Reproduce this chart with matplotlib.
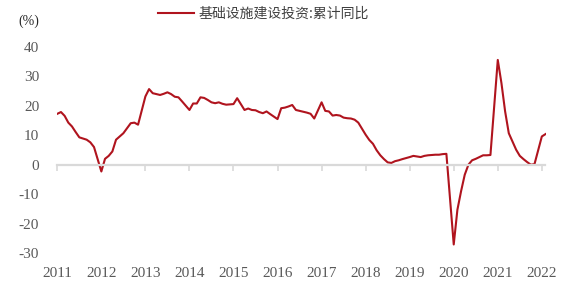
import pandas as pd
import matplotlib
matplotlib.use("Agg")
import matplotlib.pyplot as plt

# Cumulative YoY of infrastructure investment (%), Feb-Dec each year (no Jan release)
yoy_2011 = [17.3, 17.9, 16.6, 14.3, 13.0, 11.1, 9.3, 8.9, 8.5, 7.6, 6.0]
yoy_2012 = [-2.3, 2.0, 3.0, 4.5, 8.5, 9.6, 10.7, 12.4, 14.1, 14.3, 13.6]
yoy_2013 = [23.2, 25.7, 24.3, 24.0, 23.7, 24.1, 24.6, 24.0, 23.1, 22.9, 21.5]
yoy_2014 = [18.6, 20.8, 20.8, 22.9, 22.7, 22.0, 21.2, 20.9, 21.2, 20.7, 20.4]
yoy_2015 = [20.6, 22.6, 20.6, 18.6, 19.1, 18.6, 18.5, 17.9, 17.5, 18.1, 17.2]
yoy_2016 = [15.5, 19.2, 19.4, 19.8, 20.3, 18.6, 18.3, 18.0, 17.7, 17.3, 15.7]
yoy_2017 = [21.2, 18.3, 18.1, 16.7, 16.9, 16.7, 16.0, 15.8, 15.7, 15.3, 14.3]
yoy_2018 = [10.2, 8.4, 7.1, 4.9, 3.2, 1.9, 0.8, 0.6, 1.2, 1.5, 1.9]
yoy_2019 = [2.6, 3.0, 2.8, 2.6, 3.0, 3.2, 3.3, 3.4, 3.4, 3.6, 3.7]
yoy_2020 = [-27.1, -15.3, -9.0, -3.4, 0.0, 1.5, 2.0, 2.6, 3.2, 3.2, 3.3]
yoy_2021 = [35.6, 27.7, 18.1, 10.7, 7.9, 5.1, 3.0, 1.9, 0.9, 0.0, 0.2]
yoy_2022 = [9.6, 10.4]

years = list(range(2011, 2023))
series_name = "基础设施建设投资:累计同比"
y_ticks = [-30, -20, -10, 0, 10, 20, 30, 40]

by_year = [yoy_2011, yoy_2012, yoy_2013, yoy_2014, yoy_2015, yoy_2016,
           yoy_2017, yoy_2018, yoy_2019, yoy_2020, yoy_2021, yoy_2022]

# build monthly dates, first value of each year is February
dates = []
values = []
for yr, vals in zip(years, by_year):
    for k, v in enumerate(vals):
        dates.append(pd.Timestamp(year=yr, month=2 + k, day=1))
        values.append(v)
s = pd.Series(values, index=dates)

# month index counted from Feb 2011
x = [(d.year - 2011) * 12 + d.month - 2 for d in s.index]
tick_pos = [(yr - 2011) * 12 for yr in years]

plt.rcParams["font.family"] = ["Liberation Serif", "DejaVu Sans"]

red = "#B0141E"
grey_txt = "#595959"

fig = plt.figure(figsize=(5.7, 2.84), dpi=100)
ax = fig.add_axes([57.3 / 570, 1 - 253 / 284, (545.5 - 57.3) / 570, (253 - 47) / 284])

line, = ax.plot(x, s.values, color=red, lw=1.5, solid_joinstyle="round")

ax.set_xlim(0, x[-1])
ax.set_ylim(-30, 40)
ax.set_yticks(y_ticks)
ax.set_yticklabels([str(t) for t in y_ticks])
ax.tick_params(axis="y", length=0, pad=13, labelsize=11, labelcolor=grey_txt)

for side in ["top", "right", "left"]:
    ax.spines[side].set_visible(False)
ax.spines["bottom"].set_position(("data", 0))
ax.spines["bottom"].set_color("#D9D9D9")
ax.spines["bottom"].set_linewidth(1.6)
ax.set_xticks(tick_pos)
ax.tick_params(axis="x", direction="out", length=4, width=1.2, color="#D9D9D9",
               labelbottom=False)

# year labels sit at the bottom of the plot, not on the zero line
secax = ax.secondary_xaxis("bottom")
secax.set_xticks(tick_pos)
secax.set_xticklabels([str(yr) for yr in years])
secax.tick_params(length=0, pad=10, labelsize=11, labelcolor=grey_txt)
secax.spines["bottom"].set_visible(False)

fig.text(39 / 570, 1 - 21 / 284, "(%)", ha="right", va="center",
         fontsize=10, color="#262626")

leg = fig.legend([line], [series_name], loc="center", bbox_to_anchor=(0.462, 0.951),
                 frameon=False, handlelength=2.6, handletextpad=0.3,
                 prop={"family": ["Noto Sans CJK SC", "DejaVu Sans"], "size": 10})
for t in leg.get_texts():
    t.set_color("#404040")

fig.savefig("out.png", dpi=100)
